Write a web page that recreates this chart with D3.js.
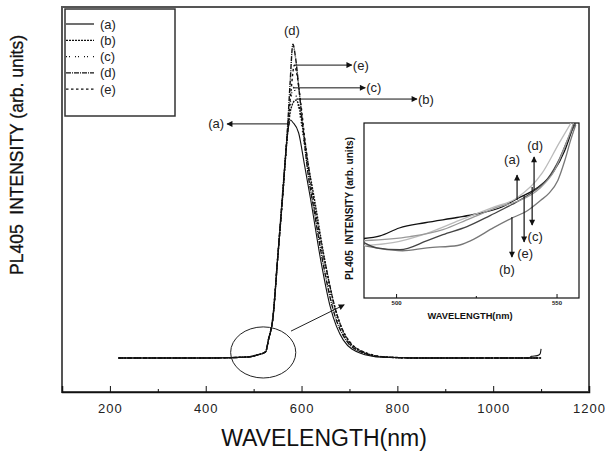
<!DOCTYPE html>
<html>
<head>
<meta charset="UTF-8">
<title>PL405 spectra</title>
<style>
  body { margin: 0; background: #fff; }
  svg { display: block; font-family: "Liberation Sans", Arial, sans-serif; }
</style>
</head>
<body>
<svg id="chart" width="605" height="454"></svg>
<script src="https://d3js.org/d3.v7.min.js"></script>
<script>
// series names and styles
const names = ["(a)", "(b)", "(c)", "(d)", "(e)"];
const dashes = [null, "2,1", "1,2,1,5", "5,1,1,1", "2.5,2.5"];

// main spectra [wavelength nm, intensity arb.]
const specA = [[218,9.7],[300,9.7],[400,9.7],[487,10],[508,10.6],[525,11.4],[531,14.9],[540,20.6],[550,37.7],[560,54.9],[571,74],[577,77.7],[582,77],[594,74],[606,65],[619,55],[640,37.7],[660,24.3],[687,14.9],[723,11.1],[765,10],[848,9.7],[1000,9.7],[1075,9.7],[1080,10.2],[1092,10.4],[1098,10.9],[1100,12.3]];
const specB = [[218,9.7],[400,9.7],[487,10],[508,10.6],[525,11.5],[531,15],[540,21],[550,38],[560,55],[571,74],[578,81],[588,83.4],[594,82],[602,76],[614,65],[627,55],[648,38],[669,24.5],[696,15],[731,11.3],[773,10],[850,9.7],[1000,9.7],[1100,9.7]];
const specC = [[218,9.7],[400,9.7],[487,10],[508,10.6],[525,11.5],[531,15],[540,21],[550,38],[560,55],[571,75],[577,83],[583,87],[588,85],[598,78],[610,67],[623,57],[644,39],[665,25.5],[692,15.5],[728,11.4],[770,10],[850,9.7],[1000,9.7],[1100,9.7]];
const specD = [[218,9.7],[400,9.7],[487,10],[508,10.6],[525,11.5],[531,15],[540,21],[550,38],[560,56],[571,76],[576,88],[582,99.4],[587,96],[595,86],[604,74],[613,63],[626,52],[646,36],[666,23.5],[693,14.8],[728,11.2],[770,10],[850,9.7],[1000,9.7],[1100,9.7]];
const specE = [[218,9.7],[400,9.7],[487,10],[508,10.6],[525,11.5],[531,15],[540,21],[550,38],[560,55],[571,75],[578,86],[585,93.4],[590,91],[598,83],[608,71],[618,61],[631,50],[652,35],[672,23],[699,14.6],[735,11.2],[778,10],[850,9.7],[1000,9.7],[1100,9.7]];
const spectra = [specA, specB, specC, specD, specE];

// inset (zoom of the rising edge) [wavelength nm, intensity arb.]
const insetA = [[490,34],[495,35.5],[501,40],[509,43],[519,46],[525,48],[533,52],[538,57],[544,63],[549,72],[552.5,84],[555.5,100]];
const insetB = [[490,29.9],[495,28.2],[502,27],[509.7,28.7],[519.2,30],[523.3,32.8],[530.4,40.2],[535.8,45.4],[541,50],[545,55.7],[547.6,59.8],[550.4,67.2],[552.6,78.7],[554.4,90.2],[556,99]];
const insetC = [[490,29.9],[499,31.6],[509.4,36.8],[519.7,44.3],[530,51.7],[537.4,56.9],[545.5,71.3],[550.8,88.5],[554.5,100]];
const insetD = [[490,31.6],[494,28.7],[501.2,27.6],[509.7,32.8],[514.6,36.2],[522.1,40.8],[529.3,47.1],[536.1,53.4],[542.3,60.3],[547.3,68.4],[551,79.9],[554.1,93.1],[556,100]];
const insetE = [[490,32.8],[504.4,35.1],[514.6,39.1],[523,45.4],[532.3,52.3],[538.5,55.7],[544.7,62.6],[549.4,73],[552.8,87.4],[555.3,100]];
const insets = [insetA, insetB, insetC, insetD, insetE];
const insetColors = ["#111", "#777", "#bbb", "#444", "#999"];

// main ticks
const majorTicks = [200, 400, 600, 800, 1000, 1200];
const minorTicks = [300, 500, 700, 900, 1100];
const insetTicks = [500, 550];

// peak annotations: [label, startNm, endNm, value]
const peakArrows = [["(e)", 586, 705, 93.4], ["(c)", 582, 733, 86.9], ["(b)", 590.6, 841, 83.7], ["(a)", 576, 444.5, 76.6]];
// inset annotations: [label, nm, fromVal, toVal, labelVal]
const insetArrows = [["(a)", 537.7, 56, 70.3, 79], ["(d)", 543, 61.7, 80.6, 87.4], ["(c)", 542.4, 63.4, 41.7, 35.4], ["(e)", 539.9, 58.9, 32, 25.7], ["(b)", 536.1, 46.3, 23.4, 16.6]];

const svg = d3.select("#chart");

const x = d3.scaleLinear().domain([100, 1200]).range([62, 589]);
const y = d3.scaleLinear().domain([0, 110]).range([392, 7]);

const defs = svg.append("defs");
defs.append("marker")
  .attr("id", "arr")
  .attr("viewBox", "0 0 10 10")
  .attr("refX", 9).attr("refY", 5)
  .attr("markerWidth", 8).attr("markerHeight", 6)
  .attr("markerUnits", "userSpaceOnUse")
  .attr("orient", "auto")
  .append("path").attr("d", "M0,0L10,5L0,10z").attr("fill", "#111");
defs.append("clipPath").attr("id", "insetClip")
  .append("rect").attr("x", 364).attr("y", 123).attr("width", 215).attr("height", 175);

// frame
svg.append("rect")
  .attr("x", 62).attr("y", 7).attr("width", 527).attr("height", 385)
  .attr("fill", "none").attr("stroke", "#555").attr("stroke-width", 2);

// bottom axis
const ax = svg.append("g").attr("transform", "translate(0,392)")
  .call(d3.axisBottom(x).tickValues(majorTicks).tickSize(-6).tickPadding(12).tickFormat(d3.format("d")));
ax.select(".domain").attr("stroke", "#111").attr("stroke-width", 1.5);
ax.selectAll(".tick line").attr("stroke", "#111");
ax.selectAll("text").attr("font-size", 13).attr("letter-spacing", 1).attr("fill", "#222")
  .attr("font-family", "Liberation Sans, Arial, sans-serif");
const axm = svg.append("g").attr("transform", "translate(0,392)")
  .call(d3.axisBottom(x).tickValues(minorTicks).tickSize(-3).tickFormat(""));
axm.select(".domain").remove();
axm.selectAll(".tick line").attr("stroke", "#111");

// axis titles
svg.append("text")
  .attr("x", 324).attr("y", 446)
  .attr("text-anchor", "middle").attr("font-size", 23).attr("fill", "#111")
  .text("WAVELENGTH(nm)");
svg.append("text")
  .attr("transform", "translate(23,155) rotate(-90)")
  .attr("text-anchor", "middle").attr("font-size", 17.5).attr("fill", "#111")
  .attr("stroke", "#111").attr("stroke-width", 0.3)
  .text("PL405\u00a0\u00a0INTENSITY (arb. units)");

// spectra
const line = d3.line().x(d => x(d[0])).y(d => y(d[1])).curve(d3.curveMonotoneX);
svg.append("g").selectAll("path")
  .data(spectra)
  .join("path")
  .attr("d", line)
  .attr("fill", "none")
  .attr("stroke", "#111")
  .attr("stroke-width", (d, i) => i === 0 ? 1.1 : 1.4)
  .attr("stroke-dasharray", (d, i) => dashes[i]);

// ellipse around the rising edge
svg.append("ellipse")
  .attr("cx", x(520)).attr("cy", y(11.3))
  .attr("rx", x(588) - x(520)).attr("ry", y(11.3) - y(18.6))
  .attr("fill", "none").attr("stroke", "#222").attr("stroke-width", 1);
svg.append("line")
  .attr("x1", x(578)).attr("y1", y(17.4))
  .attr("x2", x(689)).attr("y2", y(24.9))
  .attr("stroke", "#222").attr("stroke-width", 1).attr("marker-end", "url(#arr)");

// peak arrows
const pa = svg.append("g").selectAll("g").data(peakArrows).join("g");
pa.append("line")
  .attr("x1", d => x(d[1])).attr("x2", d => x(d[2]))
  .attr("y1", d => y(d[3])).attr("y2", d => y(d[3]))
  .attr("stroke", "#111").attr("stroke-width", 1).attr("marker-end", "url(#arr)");
pa.append("text")
  .attr("x", d => d[2] > d[1] ? x(d[2]) + 1 : x(d[2]) - 3)
  .attr("y", d => y(d[3]))
  .attr("dy", "0.35em")
  .attr("text-anchor", d => d[2] > d[1] ? "start" : "end")
  .attr("font-size", 13).attr("fill", "#222")
  .text(d => d[0]);
svg.append("text")
  .attr("x", x(580)).attr("y", y(103.4)).attr("dy", "0.35em")
  .attr("text-anchor", "middle").attr("font-size", 13).attr("fill", "#222")
  .text("(d)");

// legend
const lg = svg.append("g");
lg.append("rect").attr("x", 65).attr("y", 9).attr("width", 110).attr("height", 107)
  .attr("fill", "#fff").attr("stroke", "#333").attr("stroke-width", 1.5);
const li = lg.selectAll("g.it").data(names).join("g").attr("class", "it")
  .attr("transform", (d, i) => `translate(0,${24 + i * 16.3})`);
li.append("line").attr("x1", 66).attr("x2", 94)
  .attr("stroke", "#111").attr("stroke-width", 1.2)
  .attr("stroke-dasharray", (d, i) => dashes[i]);
li.append("text").attr("x", 100).attr("dy", "0.35em")
  .attr("font-size", 13).attr("fill", "#222").text(d => d);

// inset
const ix = d3.scaleLinear().domain([490, 557]).range([364, 579]);
const iy = d3.scaleLinear().domain([0, 100]).range([298, 123]);
const inset = svg.append("g");
inset.append("rect").attr("x", 364).attr("y", 123).attr("width", 215).attr("height", 175)
  .attr("fill", "#fff").attr("stroke", "#111").attr("stroke-width", 1.2);
const iline = d3.line().x(d => ix(d[0])).y(d => iy(d[1])).curve(d3.curveMonotoneX);
inset.append("g").attr("clip-path", "url(#insetClip)")
  .selectAll("path").data(insets).join("path")
  .attr("d", iline).attr("fill", "none")
  .attr("stroke", (d, i) => insetColors[i]).attr("stroke-width", 1.3);

const iax = inset.append("g").attr("transform", "translate(0,298)")
  .call(d3.axisBottom(ix).tickValues(insetTicks).tickSize(-4).tickPadding(3).tickFormat(d3.format("d")));
iax.select(".domain").remove();
iax.selectAll(".tick line").attr("stroke", "#111");
iax.selectAll("text").attr("font-size", 6).attr("font-weight", "bold").attr("fill", "#222");
inset.append("line").attr("x1", ix(525)).attr("x2", ix(525)).attr("y1", 298).attr("y2", 296)
  .attr("stroke", "#111");

inset.append("text")
  .attr("x", 470).attr("y", 319).attr("text-anchor", "middle")
  .attr("font-size", 9).attr("font-weight", "bold").attr("fill", "#111")
  .attr("textLength", 85).attr("lengthAdjust", "spacingAndGlyphs")
  .text("WAVELENGTH(nm)");
inset.append("text")
  .attr("transform", "translate(353,208.5) rotate(-90)").attr("text-anchor", "middle")
  .attr("font-size", 10).attr("font-weight", "bold").attr("fill", "#111")
  .attr("textLength", 143).attr("lengthAdjust", "spacingAndGlyphs")
  .text("PL405\u00a0\u00a0INTENSITY (arb. units)");

const ia = inset.append("g").selectAll("g").data(insetArrows).join("g");
ia.append("line")
  .attr("x1", d => ix(d[1])).attr("x2", d => ix(d[1]))
  .attr("y1", d => iy(d[2])).attr("y2", d => iy(d[3]))
  .attr("stroke", "#111").attr("stroke-width", 1.2).attr("marker-end", "url(#arr)");
ia.append("text")
  .attr("x", d => ix(d[1]) + (d[0] === "(c)" ? 3 : d[0] === "(b)" ? -5 : d[0] === "(a)" ? -5 : 1))
  .attr("y", d => iy(d[4])).attr("dy", "0.35em")
  .attr("text-anchor", "middle").attr("font-size", 13).attr("fill", "#222")
  .text(d => d[0]);
</script>
</body>
</html>
